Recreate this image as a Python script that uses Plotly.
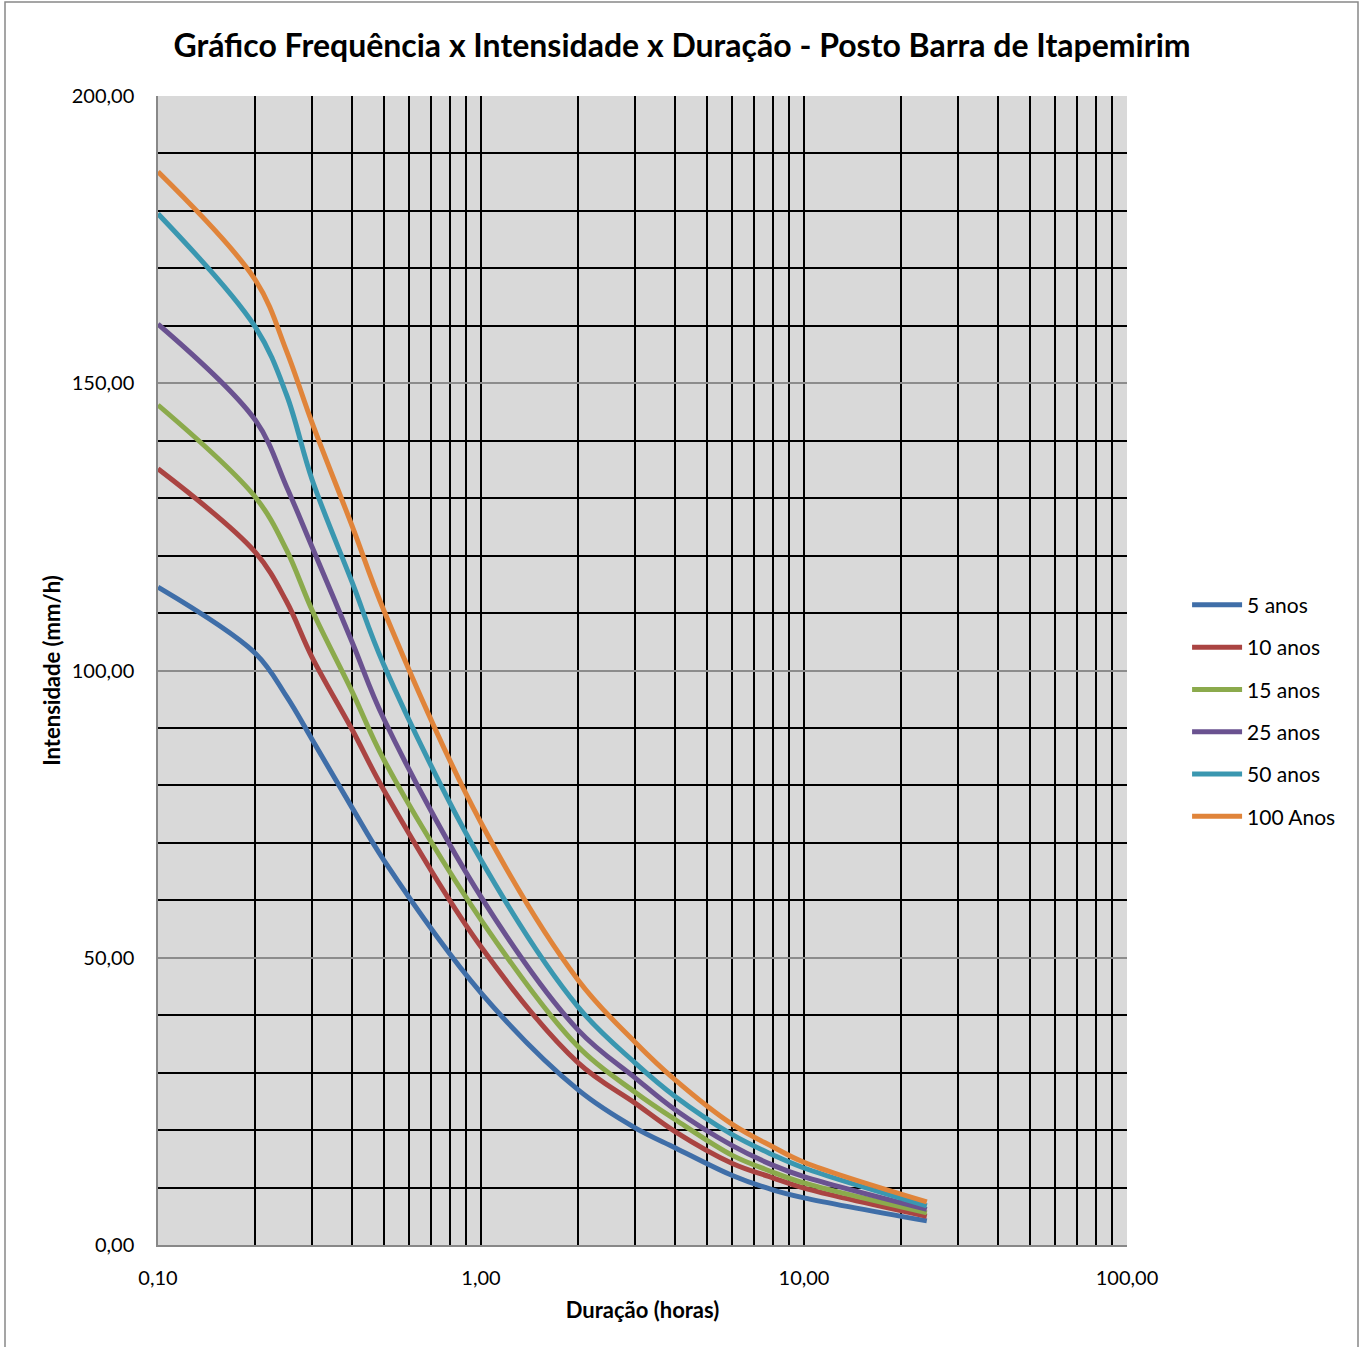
import plotly.graph_objects as go

durations = [0.1, 0.2, 0.25, 0.3, 0.4, 0.5, 1, 2, 3, 4, 6, 8, 10, 24]

series_names = ["5 anos", "10 anos", "15 anos", "25 anos", "50 anos", "100 Anos"]

i_5 = [114.5, 103.0, 95.5, 88.0, 76.0, 67.0, 43.9, 27.0, 20.4, 16.9, 12.1, 9.6, 8.2, 4.2]
i_10 = [135.1, 120.6, 112.0, 102.3, 89.6, 79.2, 51.9, 31.7, 24.7, 19.7, 14.2, 11.7, 9.9, 5.0]
i_15 = [146.2, 130.2, 121.0, 110.5, 96.2, 84.5, 56.6, 34.5, 26.6, 21.8, 15.6, 12.7, 10.8, 5.6]
i_25 = [160.3, 143.6, 132.0, 121.5, 104.8, 91.6, 60.6, 37.4, 29.1, 23.5, 17.3, 13.9, 11.9, 6.2]
i_50 = [179.5, 159.8, 148.0, 133.2, 115.2, 101.0, 67.0, 41.4, 31.7, 25.8, 19.2, 15.7, 13.4, 6.8]
i_100 = [186.8, 168.0, 155.6, 143.1, 125.0, 110.5, 73.5, 46.1, 35.3, 28.7, 21.0, 17.1, 14.4, 7.5]

series_values = [i_5, i_10, i_15, i_25, i_50, i_100]
colors = ["#3F6EA8", "#AA4442", "#8BAA4C", "#6A5290", "#3A97B0", "#E0843A"]

x_tick_vals = [m * 10 ** e for e in (-1, 0, 1) for m in range(1, 10)] + [100]
x_tick_text = ["0,10" if v == 0.1 else "1,00" if v == 1 else "10,00" if v == 10 else "100,00" if v == 100 else "" for v in x_tick_vals]
y_tick_vals = [0, 50, 100, 150, 200]
y_tick_text = ["0,00", "50,00", "100,00", "150,00", "200,00"]

FONT = "Lato"

fig = go.Figure()
for k, (name, vals, col) in enumerate(zip(series_names, series_values, colors)):
    fig.add_trace(go.Scatter(
        x=durations, y=vals, name=name, mode="lines",
        line=dict(color=col, width=5, shape="spline", smoothing=1.0),
        legendgroup=f"g{k}",
    ))

fig.update_layout(
    width=1364, height=1347,
    margin=dict(l=158, r=237, t=96, b=102),
    paper_bgcolor="white",
    plot_bgcolor="#D9D9D9",
    font=dict(family=FONT, size=20, color="black"),
    title=dict(text="<b>Gráfico Frequência x Intensidade x Duração - Posto Barra de Itapemirim</b>",
               x=682 / 1364, xref="container", xanchor="center",
               y=1 - 46 / 1347, yref="container", yanchor="middle",
               font=dict(family=FONT, size=32, color="black")),
    legend=dict(x=1.062, xanchor="left", y=0.465, yanchor="middle",
                font=dict(family=FONT, size=21), bgcolor="rgba(0,0,0,0)",
                tracegroupgap=12, itemwidth=50),
    showlegend=True,
)

fig.update_xaxes(
    type="log", range=[-1, 2],
    tickmode="array", tickvals=x_tick_vals, ticktext=x_tick_text,
    showgrid=True, gridcolor="black", gridwidth=1.6,
    showline=True, linecolor="#888888", linewidth=1.5, mirror=False,
    ticks="", zeroline=False, ticklabelstandoff=14,
    tickfont=dict(family=FONT, size=20),
    title=dict(text="<b>Duração (horas)</b>", standoff=15, font=dict(family=FONT, size=22)),
    automargin=False,
)
fig.update_yaxes(
    range=[0, 200],
    tickmode="array", tickvals=y_tick_vals, ticktext=y_tick_text,
    showgrid=True, gridcolor="#8C8C8C", gridwidth=1.6,
    minor=dict(dtick=10, tick0=0, showgrid=True, gridcolor="black", gridwidth=1.6, ticks=""),
    showline=True, linecolor="#888888", linewidth=1.5,
    ticks="", zeroline=False, ticklabelstandoff=18,
    tickfont=dict(family=FONT, size=20),
    title=dict(text="<b>Intensidade (mm/h)</b>", standoff=5, font=dict(family=FONT, size=22)),
    automargin=False,
)

# outer chart border
fig.add_shape(type="rect", xref="paper", yref="paper",
              x0=(5 - 158) / 969, x1=(1358 - 158) / 969,
              y0=(1245 - 1360) / 1149, y1=(1245 - 2) / 1149,
              line=dict(color="#888888", width=1.5), fillcolor="rgba(0,0,0,0)", layer="below")

fig.write_html("out.html", config={"displayModeBar": False},
               post_script="document.body.style.margin='0';")
